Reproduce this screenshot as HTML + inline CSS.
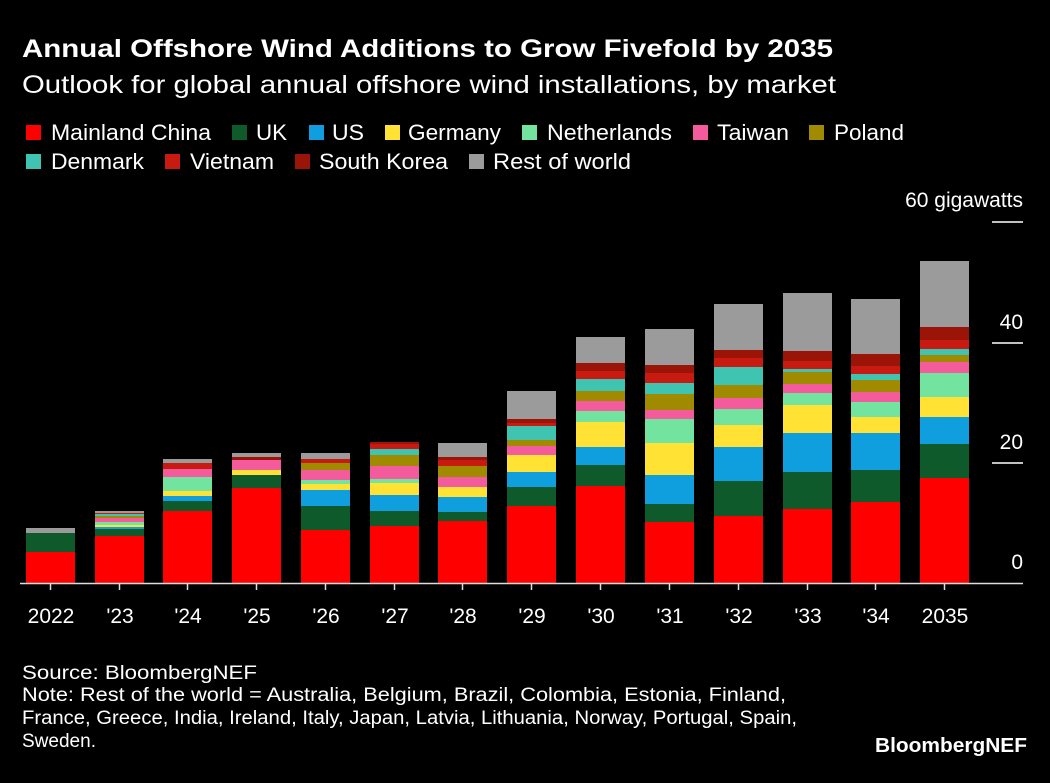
<!DOCTYPE html>
<html><head><meta charset="utf-8"><style>
body{margin:0;background:#000;width:1050px;height:778px;overflow:hidden}
svg text{font-family:"Liberation Sans",Arial,sans-serif;fill:#fff}
</style></head><body>
<svg width="1050" height="778" xmlns="http://www.w3.org/2000/svg">
<rect width="1050" height="778" fill="#000"/>
<text x="22" y="57" font-size="25" font-weight="bold" textLength="811" lengthAdjust="spacingAndGlyphs">Annual Offshore Wind Additions to Grow Fivefold by 2035</text>
<text x="22" y="93" font-size="25" textLength="814" lengthAdjust="spacingAndGlyphs">Outlook for global annual offshore wind installations, by market</text>
<g font-size="22">
<rect x="26" y="125" width="15" height="15" fill="#ff0000"/><text x="51" y="140" textLength="160" lengthAdjust="spacingAndGlyphs">Mainland China</text>
<rect x="232" y="125" width="15" height="15" fill="#0e5a2a"/><text x="256" y="140" textLength="31" lengthAdjust="spacingAndGlyphs">UK</text>
<rect x="309" y="125" width="15" height="15" fill="#0f9ede"/><text x="332" y="140" textLength="32" lengthAdjust="spacingAndGlyphs">US</text>
<rect x="385" y="125" width="15" height="15" fill="#ffe234"/><text x="408" y="140" textLength="93" lengthAdjust="spacingAndGlyphs">Germany</text>
<rect x="522" y="125" width="15" height="15" fill="#72e4a0"/><text x="547" y="140" textLength="125" lengthAdjust="spacingAndGlyphs">Netherlands</text>
<rect x="693" y="125" width="15" height="15" fill="#f35b9c"/><text x="717" y="140" textLength="72" lengthAdjust="spacingAndGlyphs">Taiwan</text>
<rect x="809" y="125" width="15" height="15" fill="#a08a00"/><text x="834" y="140" textLength="70" lengthAdjust="spacingAndGlyphs">Poland</text>
<rect x="26" y="154" width="15" height="15" fill="#3ec4b0"/><text x="51" y="169" textLength="93" lengthAdjust="spacingAndGlyphs">Denmark</text>
<rect x="165" y="154" width="15" height="15" fill="#c81a10"/><text x="190" y="169" textLength="84" lengthAdjust="spacingAndGlyphs">Vietnam</text>
<rect x="295" y="154" width="15" height="15" fill="#9a1408"/><text x="319" y="169" textLength="129" lengthAdjust="spacingAndGlyphs">South Korea</text>
<rect x="469" y="154" width="15" height="15" fill="#9b9b9b"/><text x="493" y="169" textLength="138" lengthAdjust="spacingAndGlyphs">Rest of world</text>
</g>
<g font-size="21" text-anchor="end">
<text x="1023" y="207">60 gigawatts</text>
<text x="1023" y="329">40</text>
<text x="1023" y="449">20</text>
<text x="1023" y="569">0</text>
</g>
<g stroke="#fff" stroke-width="1.5">
<line x1="992" x2="1023" y1="222" y2="222"/>
<line x1="992" x2="1023" y1="343" y2="343"/>
<line x1="992" x2="1023" y1="463" y2="463"/>
</g>
<g>
<!-- 2022 x26 -->
<rect x="26" y="552" width="49" height="31" fill="#ff0000"/>
<rect x="26" y="533" width="49" height="19" fill="#0e5a2a"/>
<rect x="26" y="528" width="49" height="5" fill="#9b9b9b"/>
<!-- '23 x95 -->
<rect x="95" y="536" width="49" height="47" fill="#ff0000"/>
<rect x="95" y="529" width="49" height="7" fill="#0e5a2a"/>
<rect x="95" y="527" width="49" height="2" fill="#0f9ede"/>
<rect x="95" y="525" width="49" height="2" fill="#ffe234"/>
<rect x="95" y="522" width="49" height="3" fill="#72e4a0"/>
<rect x="95" y="518" width="49" height="4" fill="#f35b9c"/>
<rect x="95" y="516" width="49" height="2" fill="#a08a00"/>
<rect x="95" y="514" width="49" height="2" fill="#3ec4b0"/>
<rect x="95" y="513" width="49" height="1" fill="#c81a10"/>
<rect x="95" y="511" width="49" height="2" fill="#9b9b9b"/>
<!-- '24 x163 -->
<rect x="163" y="511" width="49" height="72" fill="#ff0000"/>
<rect x="163" y="501" width="49" height="10" fill="#0e5a2a"/>
<rect x="163" y="496" width="49" height="5" fill="#0f9ede"/>
<rect x="163" y="491" width="49" height="5" fill="#ffe234"/>
<rect x="163" y="477" width="49" height="14" fill="#72e4a0"/>
<rect x="163" y="469" width="49" height="8" fill="#f35b9c"/>
<rect x="163" y="463" width="49" height="6" fill="#c81a10"/>
<rect x="163" y="459" width="49" height="4" fill="#9b9b9b"/>
<!-- '25 x232 -->
<rect x="232" y="488" width="49" height="95" fill="#ff0000"/>
<rect x="232" y="475" width="49" height="13" fill="#0e5a2a"/>
<rect x="232" y="470" width="49" height="5" fill="#ffe234"/>
<rect x="232" y="460" width="49" height="10" fill="#f35b9c"/>
<rect x="232" y="457" width="49" height="3" fill="#9a1408"/>
<rect x="232" y="453" width="49" height="4" fill="#9b9b9b"/>
<!-- '26 x301 -->
<rect x="301" y="530" width="49" height="53" fill="#ff0000"/>
<rect x="301" y="506" width="49" height="24" fill="#0e5a2a"/>
<rect x="301" y="490" width="49" height="16" fill="#0f9ede"/>
<rect x="301" y="484" width="49" height="6" fill="#ffe234"/>
<rect x="301" y="480" width="49" height="4" fill="#72e4a0"/>
<rect x="301" y="470" width="49" height="10" fill="#f35b9c"/>
<rect x="301" y="463" width="49" height="7" fill="#a08a00"/>
<rect x="301" y="459" width="49" height="4" fill="#c81a10"/>
<rect x="301" y="453" width="49" height="6" fill="#9b9b9b"/>
<!-- '27 x370 -->
<rect x="370" y="526" width="49" height="57" fill="#ff0000"/>
<rect x="370" y="511" width="49" height="15" fill="#0e5a2a"/>
<rect x="370" y="495" width="49" height="16" fill="#0f9ede"/>
<rect x="370" y="483" width="49" height="12" fill="#ffe234"/>
<rect x="370" y="479" width="49" height="4" fill="#72e4a0"/>
<rect x="370" y="466" width="49" height="13" fill="#f35b9c"/>
<rect x="370" y="455" width="49" height="11" fill="#a08a00"/>
<rect x="370" y="449" width="49" height="6" fill="#3ec4b0"/>
<rect x="370" y="444" width="49" height="5" fill="#c81a10"/>
<rect x="370" y="442" width="49" height="2" fill="#9a1408"/>
<!-- '28 x438 -->
<rect x="438" y="521" width="49" height="62" fill="#ff0000"/>
<rect x="438" y="512" width="49" height="9" fill="#0e5a2a"/>
<rect x="438" y="497" width="49" height="15" fill="#0f9ede"/>
<rect x="438" y="487" width="49" height="10" fill="#ffe234"/>
<rect x="438" y="477" width="49" height="10" fill="#f35b9c"/>
<rect x="438" y="466" width="49" height="11" fill="#a08a00"/>
<rect x="438" y="460" width="49" height="6" fill="#c81a10"/>
<rect x="438" y="457" width="49" height="3" fill="#9a1408"/>
<rect x="438" y="443" width="49" height="14" fill="#9b9b9b"/>
<!-- '29 x507 -->
<rect x="507" y="506" width="49" height="77" fill="#ff0000"/>
<rect x="507" y="487" width="49" height="19" fill="#0e5a2a"/>
<rect x="507" y="472" width="49" height="15" fill="#0f9ede"/>
<rect x="507" y="455" width="49" height="17" fill="#ffe234"/>
<rect x="507" y="446" width="49" height="9" fill="#f35b9c"/>
<rect x="507" y="440" width="49" height="6" fill="#a08a00"/>
<rect x="507" y="426" width="49" height="14" fill="#3ec4b0"/>
<rect x="507" y="423" width="49" height="3" fill="#c81a10"/>
<rect x="507" y="419" width="49" height="4" fill="#9a1408"/>
<rect x="507" y="391" width="49" height="28" fill="#9b9b9b"/>
<!-- '30 x576 -->
<rect x="576" y="486" width="49" height="97" fill="#ff0000"/>
<rect x="576" y="465" width="49" height="21" fill="#0e5a2a"/>
<rect x="576" y="447" width="49" height="18" fill="#0f9ede"/>
<rect x="576" y="422" width="49" height="25" fill="#ffe234"/>
<rect x="576" y="411" width="49" height="11" fill="#72e4a0"/>
<rect x="576" y="401" width="49" height="10" fill="#f35b9c"/>
<rect x="576" y="391" width="49" height="10" fill="#a08a00"/>
<rect x="576" y="379" width="49" height="12" fill="#3ec4b0"/>
<rect x="576" y="371" width="49" height="8" fill="#c81a10"/>
<rect x="576" y="363" width="49" height="8" fill="#9a1408"/>
<rect x="576" y="337" width="49" height="26" fill="#9b9b9b"/>
<!-- '31 x645 -->
<rect x="645" y="522" width="49" height="61" fill="#ff0000"/>
<rect x="645" y="504" width="49" height="18" fill="#0e5a2a"/>
<rect x="645" y="475" width="49" height="29" fill="#0f9ede"/>
<rect x="645" y="443" width="49" height="32" fill="#ffe234"/>
<rect x="645" y="419" width="49" height="24" fill="#72e4a0"/>
<rect x="645" y="410" width="49" height="9" fill="#f35b9c"/>
<rect x="645" y="394" width="49" height="16" fill="#a08a00"/>
<rect x="645" y="383" width="49" height="11" fill="#3ec4b0"/>
<rect x="645" y="373" width="49" height="10" fill="#c81a10"/>
<rect x="645" y="365" width="49" height="8" fill="#9a1408"/>
<rect x="645" y="329" width="49" height="36" fill="#9b9b9b"/>
<!-- '32 x714 -->
<rect x="714" y="516" width="49" height="67" fill="#ff0000"/>
<rect x="714" y="481" width="49" height="35" fill="#0e5a2a"/>
<rect x="714" y="447" width="49" height="34" fill="#0f9ede"/>
<rect x="714" y="425" width="49" height="22" fill="#ffe234"/>
<rect x="714" y="409" width="49" height="16" fill="#72e4a0"/>
<rect x="714" y="398" width="49" height="11" fill="#f35b9c"/>
<rect x="714" y="385" width="49" height="13" fill="#a08a00"/>
<rect x="714" y="367" width="49" height="18" fill="#3ec4b0"/>
<rect x="714" y="358" width="49" height="9" fill="#c81a10"/>
<rect x="714" y="350" width="49" height="8" fill="#9a1408"/>
<rect x="714" y="304" width="49" height="46" fill="#9b9b9b"/>
<!-- '33 x783 -->
<rect x="783" y="509" width="49" height="74" fill="#ff0000"/>
<rect x="783" y="472" width="49" height="37" fill="#0e5a2a"/>
<rect x="783" y="433" width="49" height="39" fill="#0f9ede"/>
<rect x="783" y="405" width="49" height="28" fill="#ffe234"/>
<rect x="783" y="393" width="49" height="12" fill="#72e4a0"/>
<rect x="783" y="384" width="49" height="9" fill="#f35b9c"/>
<rect x="783" y="372" width="49" height="12" fill="#a08a00"/>
<rect x="783" y="369" width="49" height="3" fill="#3ec4b0"/>
<rect x="783" y="361" width="49" height="8" fill="#c81a10"/>
<rect x="783" y="351" width="49" height="10" fill="#9a1408"/>
<rect x="783" y="293" width="49" height="58" fill="#9b9b9b"/>
<!-- '34 x851 -->
<rect x="851" y="502" width="49" height="81" fill="#ff0000"/>
<rect x="851" y="470" width="49" height="32" fill="#0e5a2a"/>
<rect x="851" y="433" width="49" height="37" fill="#0f9ede"/>
<rect x="851" y="417" width="49" height="16" fill="#ffe234"/>
<rect x="851" y="402" width="49" height="15" fill="#72e4a0"/>
<rect x="851" y="392" width="49" height="10" fill="#f35b9c"/>
<rect x="851" y="380" width="49" height="12" fill="#a08a00"/>
<rect x="851" y="374" width="49" height="6" fill="#3ec4b0"/>
<rect x="851" y="366" width="49" height="8" fill="#c81a10"/>
<rect x="851" y="354" width="49" height="12" fill="#9a1408"/>
<rect x="851" y="299" width="49" height="55" fill="#9b9b9b"/>
<!-- 2035 x920 -->
<rect x="920" y="478" width="49" height="105" fill="#ff0000"/>
<rect x="920" y="444" width="49" height="34" fill="#0e5a2a"/>
<rect x="920" y="417" width="49" height="27" fill="#0f9ede"/>
<rect x="920" y="397" width="49" height="20" fill="#ffe234"/>
<rect x="920" y="373" width="49" height="24" fill="#72e4a0"/>
<rect x="920" y="362" width="49" height="11" fill="#f35b9c"/>
<rect x="920" y="355" width="49" height="7" fill="#a08a00"/>
<rect x="920" y="349" width="49" height="6" fill="#3ec4b0"/>
<rect x="920" y="340" width="49" height="9" fill="#c81a10"/>
<rect x="920" y="327" width="49" height="13" fill="#9a1408"/>
<rect x="920" y="261" width="49" height="66" fill="#9b9b9b"/>
</g>
<line x1="20" x2="1023" y1="583.5" y2="583.5" stroke="#ddd" stroke-width="1.5"/>
<g stroke="#ddd" stroke-width="1.5">
<line x1="50.5" x2="50.5" y1="583" y2="590"/><line x1="119.5" x2="119.5" y1="583" y2="590"/><line x1="187.5" x2="187.5" y1="583" y2="590"/><line x1="256.5" x2="256.5" y1="583" y2="590"/><line x1="325.5" x2="325.5" y1="583" y2="590"/><line x1="394.5" x2="394.5" y1="583" y2="590"/><line x1="462.5" x2="462.5" y1="583" y2="590"/><line x1="531.5" x2="531.5" y1="583" y2="590"/><line x1="600.5" x2="600.5" y1="583" y2="590"/><line x1="669.5" x2="669.5" y1="583" y2="590"/><line x1="738.5" x2="738.5" y1="583" y2="590"/><line x1="807.5" x2="807.5" y1="583" y2="590"/><line x1="875.5" x2="875.5" y1="583" y2="590"/><line x1="944.5" x2="944.5" y1="583" y2="590"/>
</g>
<g font-size="21" text-anchor="middle">
<text x="51" y="623">2022</text><text x="120" y="623">'23</text><text x="188" y="623">'24</text><text x="257" y="623">'25</text><text x="326" y="623">'26</text><text x="395" y="623">'27</text><text x="463" y="623">'28</text><text x="532" y="623">'29</text><text x="601" y="623">'30</text><text x="670" y="623">'31</text><text x="739" y="623">'32</text><text x="808" y="623">'33</text><text x="876" y="623">'34</text><text x="945" y="623">2035</text>
</g>
<g font-size="19">
<text x="22" y="679" textLength="235" lengthAdjust="spacingAndGlyphs">Source: BloombergNEF</text>
<text x="22" y="701" textLength="764" lengthAdjust="spacingAndGlyphs">Note: Rest of the world = Australia, Belgium, Brazil, Colombia, Estonia, Finland,</text>
<text x="22" y="724" textLength="775" lengthAdjust="spacingAndGlyphs">France, Greece, India, Ireland, Italy, Japan, Latvia, Lithuania, Norway, Portugal, Spain,</text>
<text x="22" y="747" textLength="74" lengthAdjust="spacingAndGlyphs">Sweden.</text>
</g>
<text x="875" y="752" font-size="20" font-weight="bold" textLength="152" lengthAdjust="spacingAndGlyphs">BloombergNEF</text>
</svg>
</body></html>
